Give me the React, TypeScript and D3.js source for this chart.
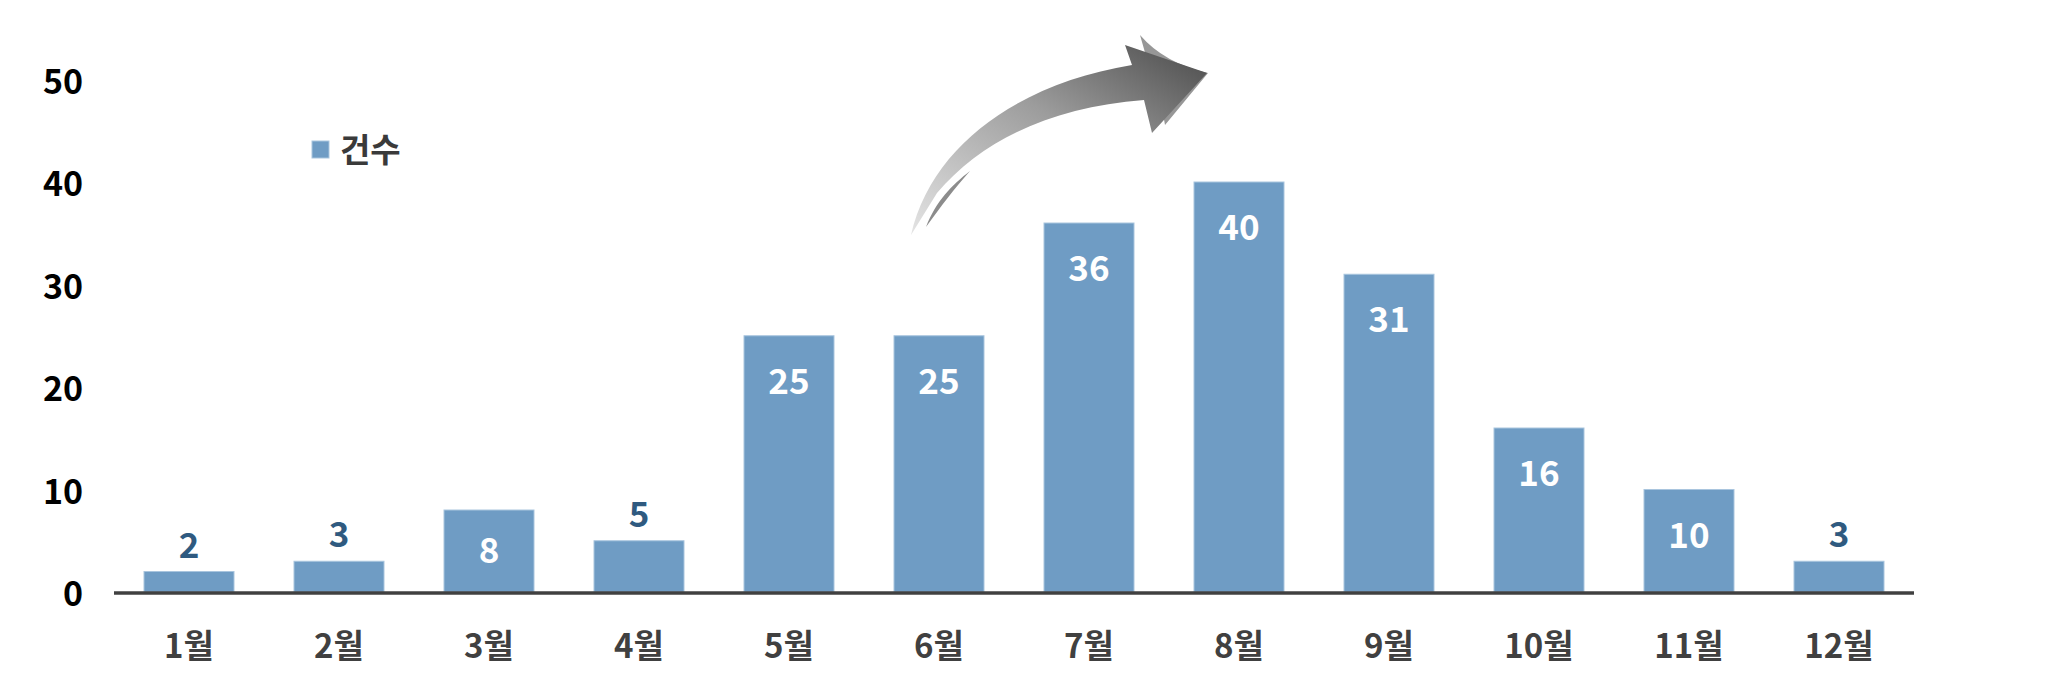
import React, { useEffect } from 'react'
import * as d3 from 'd3'

const months = ['1월', '2월', '3월', '4월', '5월', '6월', '7월', '8월', '9월', '10월', '11월', '12월']
const counts = [2, 3, 8, 5, 25, 25, 36, 40, 31, 16, 10, 3]
const yTicks = [0, 10, 20, 30, 40, 50]
const seriesName = '건수'

const W = 2047
const H = 679
const FONT = '"Noto Sans CJK KR", "Noto Sans", sans-serif'
const BAR = '#6f9cc4'
const AXIS = '#404040'

export default function App() {
  useEffect(() => {
    document.body.style.margin = '0'
  }, [])

  const x = d3.scaleBand<string>()
    .domain(months)
    .range([114, 1914])
    .paddingInner(0.4)
    .paddingOuter(0.2)

  const y = d3.scaleLinear().domain([0, 50]).range([592, 79.5])

  // 화살표 위치는 6월 막대 기준
  const ax = (x('6월') || 0) + 18
  const ay = 235

  return (
    <svg width={W} height={H} style={{ display: 'block', background: '#fff' }} fontFamily={FONT}>
      <defs>
        <linearGradient id="arrowGrad" x1="0" y1="1" x2="1" y2="0">
          <stop offset="0%" stopColor="#e4e4e4" />
          <stop offset="55%" stopColor="#9c9c9c" />
          <stop offset="100%" stopColor="#4a4a4a" />
        </linearGradient>
      </defs>

      {yTicks.map(t => (
        <text key={t} x={83} y={y(t) + 14} textAnchor="end" fontSize={34} fontWeight="bold" fill="#000">
          {t}
        </text>
      ))}

      {counts.map((v, i) => {
        const bx = x(months[i]) || 0
        const top = y(v)
        return (
          <rect key={months[i]} x={bx} y={top} width={x.bandwidth()} height={y(0) - top}
            fill={BAR} stroke="#a9c5de" strokeWidth={1} />
        )
      })}

      <line x1={114} x2={1914} y1={y(0) + 1} y2={y(0) + 1} stroke={AXIS} strokeWidth={3.5} />

      {counts.map((v, i) => {
        const cx = (x(months[i]) || 0) + x.bandwidth() / 2
        const top = y(v)
        const inside = v >= 8
        const by = inside ? Math.min(top + 58, y(0) - 29) : top - 14
        return (
          <text key={'l' + i} x={cx} y={by} textAnchor="middle" fontSize={35} fontWeight="bold"
            fill={inside ? '#fff' : '#2f5a80'}>
            {v}
          </text>
        )
      })}

      {months.map(m => (
        <text key={m} x={(x(m) || 0) + x.bandwidth() / 2} y={658} textAnchor="middle"
          fontSize={33} fontWeight="bold" fill={AXIS}>
          {m}
        </text>
      ))}

      <rect x={312} y={141} width={17} height={17} fill={BAR} stroke="#a9c5de" strokeWidth={1} />
      <text x={340} y={162} fontSize={33} fontWeight="bold" fill="#3a3a3a">{seriesName}</text>

      <g transform={`translate(${ax},${ay})`}>
        <path d="M 228,-200 Q 252,-172 296,-162 L 253,-110 L 249,-132 L 236,-172 Z" fill="#979797" />
        <path d="M -1,0 C 20,-92 110,-152 220,-170 L 213,-190 L 295,-162 L 240,-102 L 232,-135 C 140,-128 70,-95 25,-42 Z"
          fill="url(#arrowGrad)" />
        <path d="M 14,-8 C 24,-34 40,-50 58,-64 C 42,-46 30,-30 14,-8 Z" fill="#8c8c8c" />
      </g>
    </svg>
  )
}
